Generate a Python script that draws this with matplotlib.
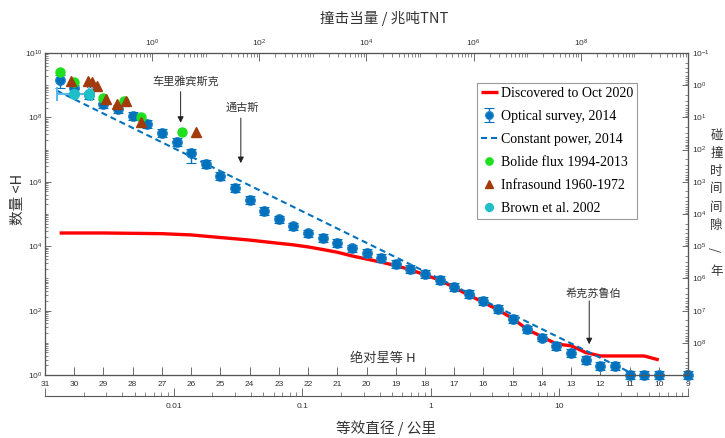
import numpy as np
import matplotlib
matplotlib.use("Agg")
import matplotlib.pyplot as plt
from matplotlib.ticker import (FixedLocator, LogLocator, NullFormatter,
                               LogFormatterSciNotation, FuncFormatter, NullLocator)

# ------------------------------------------------------------------ data
optical_H = [30.5, 30.0, 29.5, 29.0, 28.5, 28.0, 27.5, 27.0, 26.5, 26.0,
             25.5, 25.0, 24.5, 24.0, 23.5, 23.0, 22.5, 22.0, 21.5, 21.0,
             20.5, 20.0, 19.5, 19.0, 18.5, 18.0, 17.5, 17.0, 16.5, 16.0,
             15.5, 15.0, 14.5, 14.0, 13.5, 13.0, 12.5, 12.0, 11.5, 11.0,
             10.5, 10.0, 9.0]
optical_N = [1.45e9, 7.9e8, 4.8e8, 2.6e8, 1.8e8, 1.12e8, 6.2e7, 3.2e7, 1.7e7, 7.8e6,
             3.6e6, 1.55e6, 6.5e5, 2.7e5, 1.26e5, 6.8e4, 4.1e4, 2.5e4, 1.78e4, 1.23e4,
             8.5e3, 6.0e3, 4.4e3, 2.8e3, 1.95e3, 1.35e3, 890, 540, 320, 200,
             110, 54, 26, 14.5, 7.9, 4.9, 2.95, 1.95, 1.95, 1.0,
             1.0, 1.0, 1.0]
# error bars in decades (lower / upper)
optical_err_lo = [0.24, 0.12, 0.12, 0.12, 0.12, 0.12, 0.12, 0.12, 0.12, 0.30,
                  0.12, 0.12, 0.12, 0.12, 0.12, 0.12, 0.12, 0.12, 0.12, 0.12,
                  0.12, 0.12, 0.12, 0.12, 0.12, 0.12, 0.12, 0.12, 0.12, 0.12,
                  0.12, 0.12, 0.12, 0.12, 0.12, 0.12, 0.12, 0.12, 0.12, 0.12,
                  0.12, 0.12, 0.12]
optical_err_hi = [0.16, 0.12, 0.12, 0.12, 0.12, 0.12, 0.12, 0.12, 0.12, 0.12,
                  0.12, 0.12, 0.12, 0.12, 0.12, 0.12, 0.12, 0.12, 0.12, 0.12,
                  0.12, 0.12, 0.12, 0.12, 0.12, 0.12, 0.12, 0.12, 0.12, 0.12,
                  0.12, 0.12, 0.12, 0.12, 0.12, 0.12, 0.12, 0.12, 0.12, 0.12,
                  0.12, 0.12, 0.12]

discovered_H = [30.5, 29.0, 28.0, 27.0, 26.5, 26.0, 25.5, 25.0, 24.5, 24.0,
                23.5, 23.0, 22.5, 22.0, 21.5, 21.0, 20.5, 20.0, 19.5, 19.0,
                18.5, 18.0, 17.5, 17.0, 16.5, 16.0, 15.5, 15.0, 14.5, 14.0,
                13.5, 13.0, 12.5, 12.0, 11.5, 11.0, 10.5, 10.0]
discovered_N = [2.57e4, 2.57e4, 2.51e4, 2.45e4, 2.34e4, 2.24e4, 2.04e4, 1.86e4, 1.70e4, 1.55e4,
                1.38e4, 1.23e4, 1.10e4, 9.5e3, 7.9e3, 6.5e3, 5.0e3, 4.0e3, 3.2e3, 2.5e3,
                1.86e3, 1.29e3, 890, 525, 300, 182, 105, 57, 26, 15.5,
                9.1, 8.1, 5.0, 3.9, 3.9, 3.9, 3.9, 2.95]

constant_power_H = [30.6, 10.8]
constant_power_N = [6.8e8, 1.0]

bolide_H = [30.5, 30.0, 29.5, 29.0, 28.3, 27.7, 26.3]
bolide_N = [2.6e9, 1.26e9, 5.5e8, 3.9e8, 3.2e8, 1.0e8, 3.4e7]

infrasound_H = [30.12, 29.52, 29.38, 29.23, 28.92, 28.53, 28.23, 27.73, 25.83]
infrasound_N = [1.35e9, 1.35e9, 1.23e9, 9.5e8, 3.7e8, 2.6e8, 3.2e8, 7.4e7, 3.6e7]

brown_H = [30.0, 29.5]
brown_N = [5.25e8, 5.25e8]
brown_xerr = [0.6, 0.0]

h_ticks = list(range(9, 32))
count_ticks = [1e0, 1e2, 1e4, 1e6, 1e8, 1e10]
interval_ticks = [1e-1, 1e0, 1e1, 1e2, 1e3, 1e4, 1e5, 1e6, 1e7, 1e8]
energy_ticks = [1e0, 1e2, 1e4, 1e6, 1e8]
diam_ticks = [1e-3, 1e-2, 1e-1, 1e0, 1e1, 1e2]
diam_labels = ["", "0.01", "0.1", "1", "10", ""]

labels = ["Discovered to Oct 2020", "Optical survey, 2014", "Constant power, 2014",
          "Bolide flux 1994-2013", "Infrasound 1960-1972", "Brown et al. 2002"]

# ------------------------------------------------------------------ style
BLUE = "#0072BD"
RED = "#FF0000"
GREEN = "#1EE01E"
BROWN = "#A33A0B"
CYAN = "#1FBFC8"
CYAN_BAR = "#5BB8E8"
AXC = "#555555"
TXT = "#333333"

NARROW = ["Liberation Sans Narrow", "Liberation Sans", "DejaVu Sans"]
CJK = ["Noto Sans CJK SC", "DejaVu Sans"]
SERIF = ["Liberation Serif", "DejaVu Serif"]

plt.rcParams["font.family"] = NARROW
plt.rcParams["mathtext.fontset"] = "custom"
plt.rcParams["mathtext.rm"] = "Liberation Sans Narrow"
plt.rcParams["mathtext.it"] = "Liberation Sans Narrow:italic"
plt.rcParams["mathtext.bf"] = "Liberation Sans Narrow:bold"
plt.rcParams["mathtext.default"] = "regular"
plt.rcParams["axes.linewidth"] = 0.8

W, Hpx = 725, 438
fig = plt.figure(figsize=(W / 100, Hpx / 100), dpi=100)


def fx(px):
    return px / W


def fy(py):
    return 1 - py / Hpx


L, R, T, B = 45, 688, 53, 375
ax = fig.add_axes([fx(L), fy(B), (R - L) / W, (B - T) / Hpx])
ax.set_xlim(31, 9)
ax.set_yscale("log")
ax.set_ylim(1, 1e10)

# lines
(l_disc,) = ax.plot(discovered_H, discovered_N, color=RED, lw=2.4, zorder=2,
                    solid_capstyle="butt")
(l_cp,) = ax.plot(constant_power_H, constant_power_N, color=BLUE, lw=1.5,
                  dashes=(2.9, 1.9), zorder=2.5)

oN = np.array(optical_N)
yerr = [oN * (1 - 10 ** -np.array(optical_err_lo)), oN * (10 ** np.array(optical_err_hi) - 1)]
eb = ax.errorbar(optical_H, optical_N, yerr=yerr, fmt="o", color=BLUE, ms=7,
                 mec="#2b86c8", mew=0.8, elinewidth=1.0, capsize=3.5, capthick=1.0,
                 zorder=3)
for a in [eb[0]] + list(eb[1]) + list(eb[2]):
    a.set_zorder(3)
    a.set_clip_on(False)

(l_bol,) = ax.plot(bolide_H, bolide_N, "o", color=GREEN, ms=6.5, mec=GREEN, zorder=4)
(l_inf,) = ax.plot(infrasound_H, infrasound_N, "^", color=BROWN, ms=6.5, mec=BROWN, zorder=5)
ax.errorbar(brown_H, brown_N, xerr=brown_xerr, fmt="none", ecolor=CYAN_BAR,
            elinewidth=1.6, capsize=5, capthick=1.4, zorder=5.5)
(l_br,) = ax.plot(brown_H, brown_N, "o", color=CYAN, ms=7, mec=CYAN, zorder=6)

# axes styling (main)
for s in ax.spines.values():
    s.set_color(AXC)
    s.set_linewidth(0.8)
ax.xaxis.set_major_locator(FixedLocator(h_ticks))
ax.xaxis.set_major_formatter(FuncFormatter(lambda v, p: f"{int(round(v))}"))
ax.xaxis.set_minor_locator(NullLocator())
ax.tick_params(axis="x", which="major", direction="in", length=5.8, width=0.6,
               top=False, bottom=True, labelsize=6, pad=4, colors=AXC, labelcolor=TXT)
ax.yaxis.set_major_locator(FixedLocator(count_ticks))
ax.yaxis.set_major_formatter(LogFormatterSciNotation())
ax.yaxis.set_minor_locator(LogLocator(base=10, subs=np.arange(1, 10), numticks=100))
ax.yaxis.set_minor_formatter(NullFormatter())
ax.tick_params(axis="y", which="major", direction="in", length=4.2, width=0.6,
               left=True, right=False, labelsize=6, pad=2, colors=AXC, labelcolor=TXT)
ax.tick_params(axis="y", which="minor", direction="in", length=2.2, width=0.5,
               left=True, right=False, colors=AXC)

# top energy axis
ax_t = ax.twiny()
ax_t.set_xscale("log")
ax_t.set_xlim(1e-2, 1e10)
ax_t.xaxis.set_major_locator(FixedLocator(energy_ticks))
ax_t.xaxis.set_major_formatter(LogFormatterSciNotation())
ax_t.xaxis.set_minor_locator(LogLocator(base=10, subs=np.arange(1, 10), numticks=100))
ax_t.xaxis.set_minor_formatter(NullFormatter())
ax_t.tick_params(axis="x", which="major", direction="in", length=5.8, width=0.6,
                 labelsize=6, pad=3, colors=AXC, labelcolor=TXT)
ax_t.tick_params(axis="x", which="minor", direction="in", length=2.6, width=0.5, colors=AXC)
for s in ax_t.spines.values():
    s.set_color(AXC)

# right interval axis
ax_r = ax.twinx()
ax_r.set_yscale("log")
ax_r.set_ylim(1e9, 1e-1)
ax_r.yaxis.set_major_locator(FixedLocator(interval_ticks))
ax_r.yaxis.set_major_formatter(LogFormatterSciNotation())
ax_r.yaxis.set_minor_locator(LogLocator(base=10, subs=np.arange(2, 10), numticks=100))
ax_r.yaxis.set_minor_formatter(NullFormatter())
ax_r.tick_params(axis="y", which="major", direction="in", length=4.2, width=0.6,
                 labelsize=6, pad=3, colors=AXC, labelcolor=TXT)
ax_r.tick_params(axis="y", which="minor", direction="in", length=2.2, width=0.5, colors=AXC)
for s in ax_r.spines.values():
    s.set_color(AXC)

# diameter axis (separate line below)
DY = 396
ax_d = fig.add_axes([fx(L), fy(DY), (R - L) / W, 0.0001])
ax_d.patch.set_visible(False)
for k in ("top", "left", "right"):
    ax_d.spines[k].set_visible(False)
ax_d.spines["bottom"].set_color(AXC)
ax_d.spines["bottom"].set_linewidth(0.8)
ax_d.set_yticks([])
ax_d.set_xscale("log")
ax_d.set_xlim(1e-3, 1e2)
ax_d.xaxis.set_major_locator(FixedLocator(diam_ticks))
ax_d.xaxis.set_major_formatter(FuncFormatter(
    lambda v, p: diam_labels[p] if p is not None and p < len(diam_labels) else ""))
ax_d.xaxis.set_minor_locator(LogLocator(base=10, subs=np.arange(2, 10), numticks=100))
ax_d.xaxis.set_minor_formatter(NullFormatter())
ax_d.tick_params(axis="x", which="major", direction="in", length=5.8, width=0.6,
                 labelsize=6, pad=5, colors=AXC, labelcolor=TXT)
ax_d.tick_params(axis="x", which="minor", direction="in", length=3.0, width=0.5, colors=AXC)

# axis titles
fig.text(fx(384), fy(18), "撞击当量 / 兆吨TNT", family=CJK, fontsize=10.5,
         ha="center", va="center", color=TXT)
fig.text(fx(386), fy(428), "等效直径 / 公里", family=CJK, fontsize=10.5,
         ha="center", va="center", color=TXT)
fig.text(fx(18), fy(199), "数量 <H", family=CJK, fontsize=10.5, rotation=90,
         ha="center", va="center", color=TXT)
ax.text((383 - L) / (R - L), (B - 358) / (B - T), "绝对星等 H", family=CJK,
        fontsize=9.5, ha="center", va="center", color=TXT, transform=ax.transAxes)

right_chars = ["碰", "撞", "时", "间", "间", "隙", "/", "年"]
right_y = [136, 154, 171, 189, 207, 226, 250, 272]
for ch, yy in zip(right_chars, right_y):
    fig.text(fx(716.5), fy(yy), ch, family=CJK, fontsize=9, ha="center", va="center",
             color=TXT, rotation=90 if ch == "/" else 0)

# event annotations: (text, text H, text N, arrow H, arrow start N, arrow end N)
events = [
    ("车里雅宾斯克", 26.18, 1.35e9, 26.36, 6.3e8, 6.8e7),
    ("通古斯", 24.26, 1.95e8, 24.30, 9.5e7, 3.8e6),
    ("希克苏鲁伯", 12.25, 330, 12.38, 200, 9.0),
]
for txt, tx, tyv, axh, a0, a1 in events:
    ax.text(tx, tyv, txt, family=CJK, fontsize=8, ha="center", va="center",
            color=TXT, zorder=7)
    ax.annotate("", xy=(axh, a1), xytext=(axh, a0),
                arrowprops=dict(arrowstyle="-|>", color="#222222", lw=0.7,
                                mutation_scale=9, shrinkA=0, shrinkB=0),
                zorder=7)

# legend
leg = ax.legend([l_disc, eb, l_cp, l_bol, l_inf, l_br], labels,
                loc="upper left", bbox_to_anchor=(fx(477), fy(83)),
                bbox_transform=fig.transFigure, borderaxespad=0,
                prop={"family": SERIF, "size": 10}, frameon=True, fancybox=False,
                edgecolor="#9a9a9a", framealpha=1, borderpad=0.3,
                handlelength=1.2, handletextpad=0.2, labelspacing=0.72,
                markerscale=0.8)
leg.get_frame().set_linewidth(0.8)
leg.set_zorder(10)

fig.savefig("out.png", dpi=100)
